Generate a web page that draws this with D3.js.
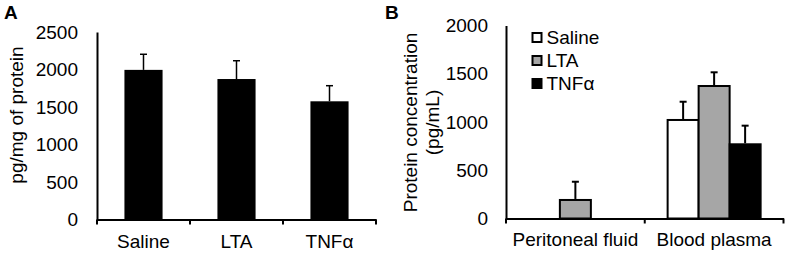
<!DOCTYPE html>
<html>
<head>
<meta charset="utf-8">
<script src="https://cdn.jsdelivr.net/npm/d3@7"></script>
<style>
  html, body { margin: 0; padding: 0; background: #fff; }
  svg { display: block; }
  text { font-family: "Liberation Sans", Arial, sans-serif; fill: #000; }
</style>
</head>
<body>
<svg id="chart" width="790" height="258"></svg>
<script>
// ---- Data ----
const categoriesA = ["Saline", "LTA", "TNFα"];
const valuesA = [1995, 1873, 1576];
const errorsA = [208, 244, 208];
const yTicksA = [0, 500, 1000, 1500, 2000, 2500];

const categoriesB = ["Peritoneal fluid", "Blood plasma"];
const seriesB = ["Saline", "LTA", "TNFα"];
const salineB = [0, 1021];
const ltaB = [192, 1373];
const tnfB = [0, 769];
const salineErrB = [0, 189];
const ltaErrB = [189, 142];
const tnfErrB = [0, 193];
const yTicksB = [0, 500, 1000, 1500, 2000];

const seriesColors = ["#ffffff", "#a6a6a6", "#000000"];
const FONT = 19;
const FAM = '"Liberation Sans", Arial, sans-serif';

const svg = d3.select("#chart");

// ================= Panel A =================
const gA = svg.append("g");
const xA = d3.scaleBand().domain(categoriesA).range([97, 376]);
const xBarA = d3.scaleBand().domain(categoriesA).range([97, 376]).paddingInner(0.59).paddingOuter(0.295);
const yA = d3.scaleLinear().domain([0, 2500]).range([219.5, 32]);

gA.selectAll("rect.bar").data(categoriesA).join("rect")
  .attr("class", "bar")
  .attr("x", d => xBarA(d))
  .attr("width", xBarA.bandwidth())
  .attr("y", (d, i) => yA(valuesA[i]))
  .attr("height", (d, i) => yA(0) - yA(valuesA[i]))
  .attr("fill", "#000");

const capA = 7;
const cxA = d => xA(d) + xA.bandwidth() / 2;
gA.selectAll("line.err").data(categoriesA).join("line")
  .attr("x1", cxA).attr("x2", cxA)
  .attr("y1", (d, i) => yA(valuesA[i]))
  .attr("y2", (d, i) => yA(valuesA[i] + errorsA[i]))
  .attr("stroke", "#000").attr("stroke-width", 1.5);
gA.selectAll("line.cap").data(categoriesA).join("line")
  .attr("x1", d => cxA(d) - capA / 2)
  .attr("x2", d => cxA(d) + capA / 2)
  .attr("y1", (d, i) => yA(valuesA[i] + errorsA[i]))
  .attr("y2", (d, i) => yA(valuesA[i] + errorsA[i]))
  .attr("stroke", "#000").attr("stroke-width", 1.5);

const yAxisA = gA.append("g").attr("transform", `translate(${xA.range()[0]},0)`)
  .call(d3.axisLeft(yA).tickValues(yTicksA).tickSize(0).tickPadding(19).tickFormat(d3.format("d")));
yAxisA.select(".domain").attr("stroke", "#000").attr("stroke-width", 2);
yAxisA.selectAll("text").attr("font-size", FONT).style("font-family", FAM);

const xAxisA = gA.append("g").attr("transform", `translate(0,${yA(0)})`)
  .call(d3.axisBottom(xA).tickSize(0).tickPadding(15));
xAxisA.select(".domain").attr("stroke", "#000").attr("stroke-width", 2);
xAxisA.selectAll("text").attr("font-size", FONT).style("font-family", FAM);
const boundsA = categoriesA.map(d => xA(d)).concat([xA.range()[1]]);
gA.selectAll("line.bt").data(boundsA).join("line")
  .attr("x1", d => d).attr("x2", d => d)
  .attr("y1", yA(0)).attr("y2", yA(0) + 5)
  .attr("stroke", "#000").attr("stroke-width", 2);

gA.append("text")
  .attr("transform", "translate(23,115) rotate(-90)")
  .attr("text-anchor", "middle")
  .attr("font-size", FONT)
  .text("pg/mg of protein");

svg.append("text").attr("x", 4).attr("y", 19).attr("font-size", 19).attr("font-weight", "bold").text("A");

// ================= Panel B =================
const gB = svg.append("g");
const xB = d3.scaleBand().domain(categoriesB).range([506, 783.5]);
const x1B = d3.scaleBand().domain(seriesB).range([0, 93]);
const yB = d3.scaleLinear().domain([0, 2000]).range([218.5, 25.5]);

const seriesVals = [salineB, ltaB, tnfB];
const seriesErrs = [salineErrB, ltaErrB, tnfErrB];
const barData = [];
categoriesB.forEach((c, ci) => {
  seriesB.forEach((s, si) => {
    barData.push({ cat: c, ser: s, si, v: seriesVals[si][ci], e: seriesErrs[si][ci] });
  });
});
const shown = barData.filter(d => d.v > 0);
const groupOffset = (xB.bandwidth() - 93) / 2;

gB.selectAll("rect.bar").data(shown).join("rect")
  .attr("x", d => xB(d.cat) + groupOffset + x1B(d.ser))
  .attr("width", x1B.bandwidth())
  .attr("y", d => yB(d.v))
  .attr("height", d => yB(0) - yB(d.v))
  .attr("fill", d => seriesColors[d.si])
  .attr("stroke", "#000").attr("stroke-width", 2);

const capB = 7;
const cx = d => xB(d.cat) + groupOffset + x1B(d.ser) + x1B.bandwidth() / 2;
gB.selectAll("line.err").data(shown).join("line")
  .attr("x1", cx).attr("x2", cx)
  .attr("y1", d => yB(d.v) - 1)
  .attr("y2", d => yB(d.v + d.e))
  .attr("stroke", "#000").attr("stroke-width", 2);
gB.selectAll("line.cap").data(shown).join("line")
  .attr("x1", d => cx(d) - capB / 2).attr("x2", d => cx(d) + capB / 2)
  .attr("y1", d => yB(d.v + d.e)).attr("y2", d => yB(d.v + d.e))
  .attr("stroke", "#000").attr("stroke-width", 2);

const yAxisB = gB.append("g").attr("transform", `translate(${xB.range()[0]},0)`)
  .call(d3.axisLeft(yB).tickValues(yTicksB).tickSize(0).tickPadding(18).tickFormat(d3.format("d")));
yAxisB.select(".domain").attr("stroke", "#000").attr("stroke-width", 2);
yAxisB.selectAll("text").attr("font-size", FONT).style("font-family", FAM);

const xAxisB = gB.append("g").attr("transform", `translate(0,${yB(0)})`)
  .call(d3.axisBottom(xB).tickSize(0).tickPadding(14));
xAxisB.select(".domain").attr("stroke", "#000").attr("stroke-width", 2);
xAxisB.selectAll("text").attr("font-size", FONT).style("font-family", FAM);
const boundsB = categoriesB.map(d => xB(d)).concat([xB.range()[1]]);
gB.selectAll("line.bt").data(boundsB).join("line")
  .attr("x1", d => d).attr("x2", d => d)
  .attr("y1", yB(0)).attr("y2", yB(0) + 5)
  .attr("stroke", "#000").attr("stroke-width", 2);

const tB = gB.append("text")
  .attr("transform", "translate(417,122.5) rotate(-90)")
  .attr("text-anchor", "middle")
  .attr("font-size", FONT);
tB.append("tspan").attr("x", 0).attr("dy", 0).text("Protein concentration");
tB.append("tspan").attr("x", 0).attr("dy", 22).text("(pg/mL)");

const leg = gB.append("g");
seriesB.forEach((s, i) => {
  const y = 37.5 + i * 23;
  leg.append("rect").attr("x", 532.5).attr("y", y - 4.5).attr("width", 9).attr("height", 9)
    .attr("fill", seriesColors[i]).attr("stroke", "#000").attr("stroke-width", 2);
  leg.append("text").attr("x", 546.5).attr("y", y).attr("dy", "0.35em")
    .attr("font-size", FONT).text(s);
});

svg.append("text").attr("x", 385).attr("y", 19).attr("font-size", 19).attr("font-weight", "bold").text("B");
</script>
</body>
</html>
